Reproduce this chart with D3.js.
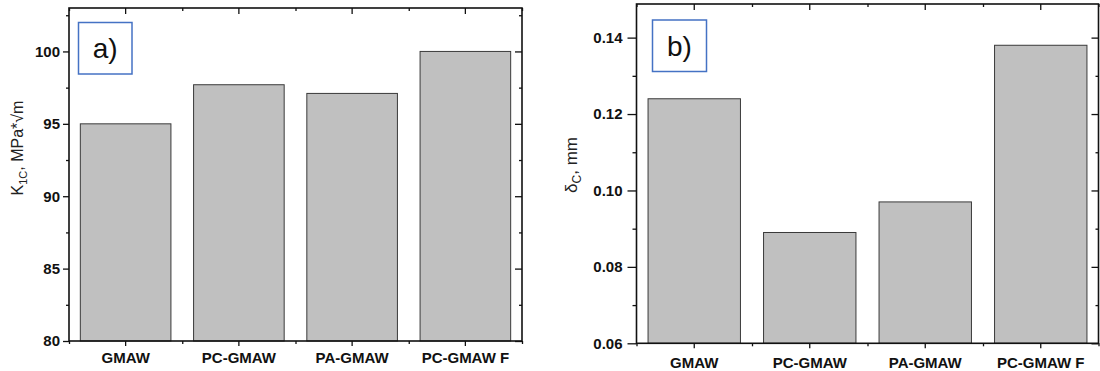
<!DOCTYPE html>
<html>
<head>
<meta charset="utf-8">
<script src="https://cdn.jsdelivr.net/npm/d3@7"></script>
<style>
  html, body { margin: 0; padding: 0; background: #fff; }
  svg { display: block; font-family: "Liberation Sans", Arial, sans-serif; }
</style>
</head>
<body>
<svg id="chart" width="1100" height="371"></svg>
<script>
// Welding processes compared in both panels
const categories = ["GMAW", "PC-GMAW", "PA-GMAW", "PC-GMAW F"];

// Panel a: fracture toughness K1C, MPa*√m
const k1cValues = [95.0, 97.7, 97.1, 100.0];
const k1cTicks = [80, 85, 90, 95, 100];
const k1cMinorTicks = [82.5, 87.5, 92.5, 97.5, 102.5];

// Panel b: crack tip opening displacement δC, mm
const ctodValues = [0.124, 0.089, 0.097, 0.138];
const ctodTicks = [0.06, 0.08, 0.10, 0.12, 0.14];
const ctodMinorTicks = [0.07, 0.09, 0.11, 0.13];

const svg = d3.select("#chart");

function drawPanel(p) {
  const g = svg.append("g");
  const x = d3.scaleBand().domain(categories).range([p.left, p.right])
    .paddingInner(0.2).paddingOuter(0.1);
  const xEdge = d3.scaleLinear().domain([0, categories.length]).range([p.left, p.right]);
  const y = d3.scaleLinear().domain(p.domain).range([p.bottom, p.top]);
  const edges = d3.range(categories.length + 1);

  // bars
  g.selectAll("rect.bar").data(p.values).join("rect")
    .attr("class", "bar")
    .attr("x", (d, i) => x(categories[i]))
    .attr("width", x.bandwidth())
    .attr("y", d => y(d))
    .attr("height", d => y(p.domain[0]) - y(d))
    .attr("fill", "#c0c0c0")
    .attr("stroke", "#3a3a3a")
    .attr("stroke-width", 1);

  const style = sel => {
    sel.select(".domain").remove();
    sel.selectAll(".tick line").attr("stroke", "#111").attr("stroke-width", 1.3);
  };

  // left axis with labels
  g.append("g").attr("transform", `translate(${p.left},0)`)
    .call(d3.axisLeft(y).tickValues(p.ticks).tickSize(p.majorLen).tickPadding(p.labelPad).tickFormat(p.fmt))
    .call(style)
    .call(s => s.selectAll("text").attr("font-size", 15).attr("font-weight", "bold")
      .attr("fill", "#111").attr("font-family", "Liberation Sans, Arial, sans-serif"));
  g.append("g").attr("transform", `translate(${p.left},0)`)
    .call(d3.axisLeft(y).tickValues(p.minor).tickSize(p.minorLen).tickFormat(""))
    .call(style);

  // right axis, ticks pointing inward
  g.append("g").attr("transform", `translate(${p.right},0)`)
    .call(d3.axisRight(y).tickValues(p.ticks).tickSize(-7).tickFormat(""))
    .call(style);
  g.append("g").attr("transform", `translate(${p.right},0)`)
    .call(d3.axisRight(y).tickValues(p.minor).tickSize(-3).tickFormat(""))
    .call(style);

  // bottom axis: major ticks at categories, minor ticks between them
  g.append("g").attr("transform", `translate(0,${p.bottom})`)
    .call(d3.axisBottom(x).tickSize(5).tickPadding(p.xPad))
    .call(style)
    .call(s => s.selectAll("text").attr("font-size", 15).attr("font-weight", "bold")
      .attr("fill", "#111").attr("font-family", "Liberation Sans, Arial, sans-serif"));
  g.append("g").attr("transform", `translate(0,${p.bottom})`)
    .call(d3.axisBottom(xEdge).tickValues(edges).tickSize(3).tickFormat(""))
    .call(style);

  // top axis, ticks pointing inward
  g.append("g").attr("transform", `translate(0,${p.top})`)
    .call(d3.axisBottom(x).tickSize(6).tickFormat(""))
    .call(style);
  g.append("g").attr("transform", `translate(0,${p.top})`)
    .call(d3.axisBottom(xEdge).tickValues(edges).tickSize(3).tickFormat(""))
    .call(style);

  // frame
  g.append("rect")
    .attr("x", p.left).attr("y", p.top)
    .attr("width", p.right - p.left).attr("height", p.bottom - p.top)
    .attr("fill", "none").attr("stroke", "#111").attr("stroke-width", 1.6);

  // y axis title
  const t = g.append("text")
    .attr("transform", `translate(${p.titleX},${p.titleY}) rotate(-90)`)
    .attr("text-anchor", "middle")
    .attr("font-size", p.titleSize)
    .attr("fill", "#222");
  p.title(t);

  // panel tag
  g.append("rect")
    .attr("x", p.tag.x).attr("y", p.tag.y).attr("width", p.tag.w).attr("height", p.tag.h)
    .attr("fill", "#fff").attr("stroke", "#4472c4").attr("stroke-width", 1.5);
  g.append("text")
    .attr("x", p.tag.x + p.tag.w / 2).attr("y", p.tag.y + p.tag.h / 2 + 10)
    .attr("text-anchor", "middle")
    .attr("font-size", 28)
    .attr("fill", "#111")
    .text(p.tag.label);
}

drawPanel({
  left: 69, right: 522, top: 8, bottom: 341,
  domain: [80, 103],
  values: k1cValues, ticks: k1cTicks, minor: k1cMinorTicks,
  fmt: d3.format("d"),
  majorLen: 6, minorLen: 3, labelPad: 3, xPad: 6,
  titleX: 23, titleY: 148, titleSize: 16,
  title: t => {
    t.append("tspan").text("K");
    t.append("tspan").attr("font-size", 11).attr("dy", 4).text("1C");
    t.append("tspan").attr("dy", -4).text(", MPa*\u221Am");
  },
  tag: { x: 78.5, y: 22.5, w: 53.5, h: 51.5, label: "a)" }
});

drawPanel({
  left: 636.5, right: 1098.5, top: 4, bottom: 343.3,
  domain: [0.06, 0.1488],
  values: ctodValues, ticks: ctodTicks, minor: ctodMinorTicks,
  fmt: d3.format(".2f"),
  majorLen: 9, minorLen: 4, labelPad: 5, xPad: 9,
  titleX: 577, titleY: 165, titleSize: 17,
  title: t => {
    t.append("tspan").text("\u03B4");
    t.append("tspan").attr("font-size", 12).attr("dy", 4).text("C");
    t.append("tspan").attr("dy", -4).text(", mm");
  },
  tag: { x: 652.5, y: 20, w: 54, h: 51.5, label: "b)" }
});
</script>
</body>
</html>
